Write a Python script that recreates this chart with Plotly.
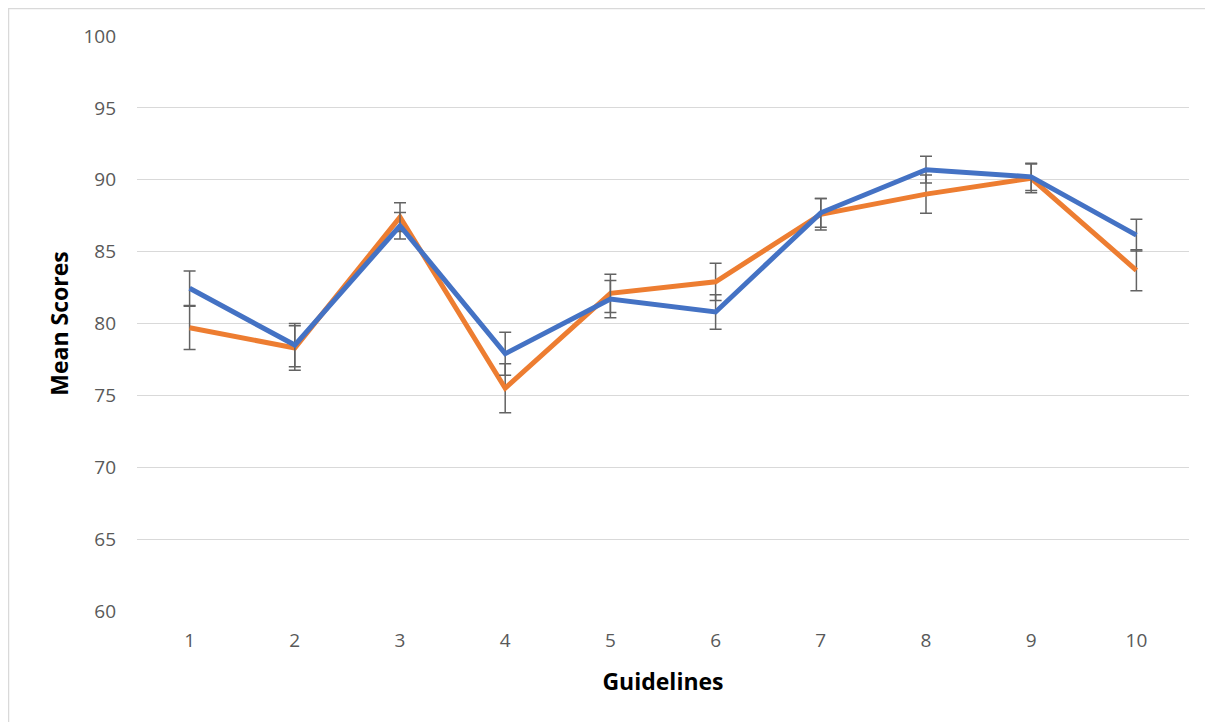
import plotly.graph_objects as go

guidelines = [1, 2, 3, 4, 5, 6, 7, 8, 9, 10]
tick_labels = ["1", "2", "3", "4", "5", "6", "7", "8", "9", "10"]

orange_scores = [79.7, 78.3, 87.4, 75.5, 82.1, 82.9, 87.6, 89.0, 90.1, 83.7]
orange_err = [1.5, 1.55, 1.0, 1.7, 1.33, 1.3, 1.1, 1.33, 1.0, 1.43]

blue_scores = [82.45, 78.5, 86.8, 77.9, 81.7, 80.8, 87.7, 90.7, 90.2, 86.15]
blue_err = [1.2, 1.5, 0.93, 1.5, 1.3, 1.2, 1.0, 0.93, 0.95, 1.1]

fig = go.Figure()
fig.add_trace(go.Scatter(
    x=guidelines, y=orange_scores, mode="lines",
    line=dict(color="#ED7D31", width=5),
    error_y=dict(type="data", array=orange_err, visible=True,
                 color="#636363", thickness=1.5, width=6),
    showlegend=False))
fig.add_trace(go.Scatter(
    x=guidelines, y=blue_scores, mode="lines",
    line=dict(color="#4472C4", width=5),
    error_y=dict(type="data", array=blue_err, visible=True,
                 color="#636363", thickness=1.5, width=6),
    showlegend=False))

# page has an 8px body margin, so the figure starts at page (8, 8)
OFF = 8
W, H = 1213 - OFF, 722 - OFF
L, R, T, B = 137 - OFF, 24, 36 - OFF, 111
pw, ph = W - L - R, H - T - B

def px_x(p):
    return (p - L) / pw

def px_y(p):
    return (H - B - p) / ph

fig.update_layout(
    width=W, height=H,
    margin=dict(l=L, r=R, t=T, b=B),
    paper_bgcolor="white", plot_bgcolor="white",
    font=dict(family="Open Sans, Liberation Sans, sans-serif", color="#595959"),
    xaxis=dict(
        range=[0.5, 10.5], tickmode="array", tickvals=guidelines, ticktext=tick_labels,
        showgrid=False, zeroline=False, showline=False, ticks="",
        tickfont=dict(size=19, color="#595959"),
        ticklabelstandoff=16,
        title=dict(text="<b>Guidelines</b>", font=dict(size=23, color="#000000"), standoff=21),
    ),
    yaxis=dict(
        range=[60, 100], dtick=5, showgrid=True, gridcolor="#d9d9d9", gridwidth=1.2,
        zeroline=False, showline=False, ticks="",
        tickfont=dict(size=19, color="#595959"),
        ticklabelstandoff=20,
        title=dict(text="<b>Mean Scores</b>", font=dict(size=23, color="#000000"), standoff=8),
    ),
    shapes=[
        dict(type="line", xref="paper", yref="paper",
             x0=px_x(0), x1=px_x(W + 10), y0=px_y(0.5), y1=px_y(0.5),
             line=dict(color="#d9d9d9", width=1.5)),
        dict(type="line", xref="paper", yref="paper",
             x0=px_x(0.5), x1=px_x(0.5), y0=px_y(0), y1=px_y(H + 10),
             line=dict(color="#d9d9d9", width=1.5)),
    ],
)

fig.write_html("out.html")
